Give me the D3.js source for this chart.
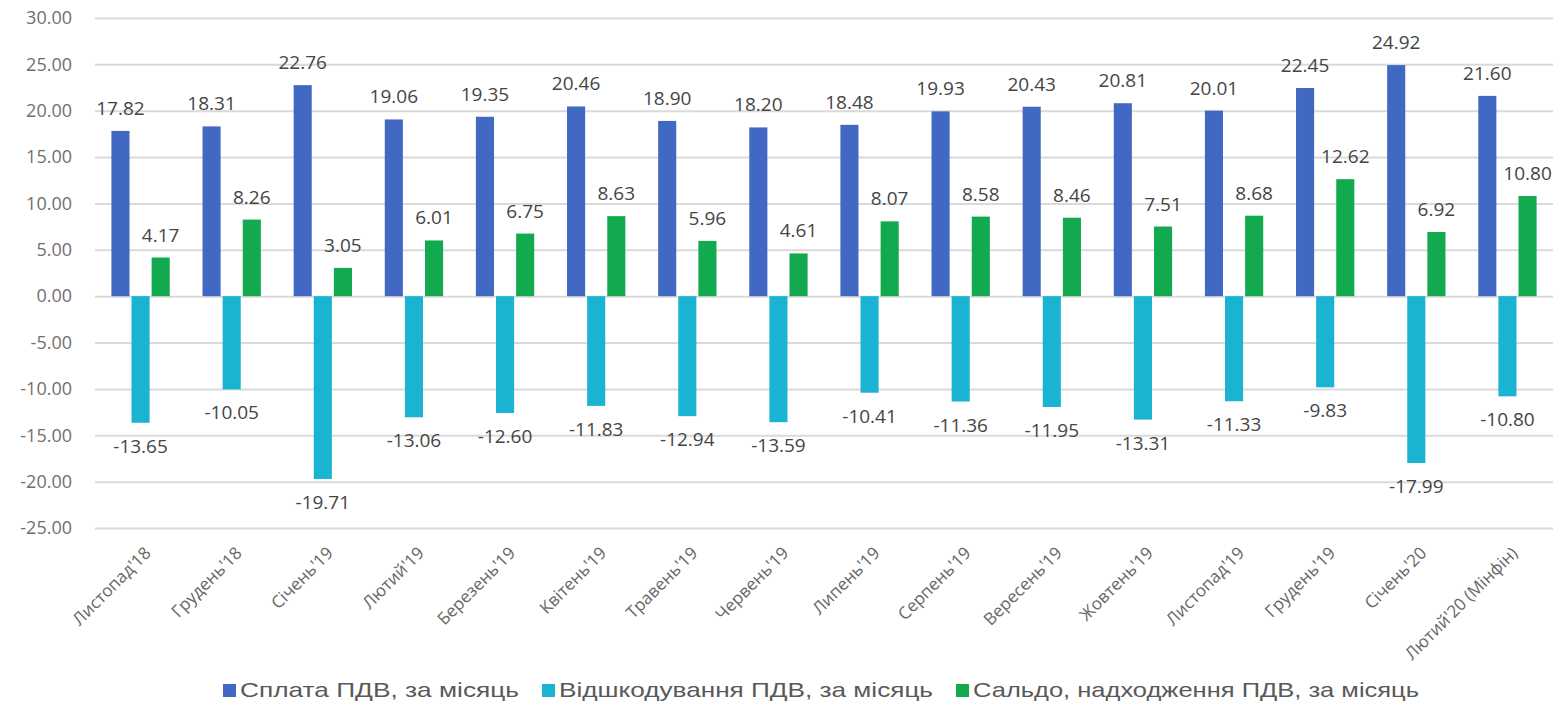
<!DOCTYPE html>
<html>
<head>
<meta charset="utf-8">
<script src="https://cdn.jsdelivr.net/npm/d3@7"></script>
<style>
  body { margin: 0; background: #fff; }
  svg { display: block; }
</style>
</head>
<body>
<div id="chart"></div>
<script>
'use strict';

/*** Data */
const months = ["Листопад'18", "Грудень'18", "Січень'19", "Лютий'19", "Березень'19", "Квітень'19",
                "Травень'19", "Червень'19", "Липень'19", "Серпень'19", "Вересень'19", "Жовтень'19",
                "Листопад'19", "Грудень'19", "Січень'20", "Лютий'20 (Мінфін)"];
const payments = [17.82, 18.31, 22.76, 19.06, 19.35, 20.46, 18.90, 18.20, 18.48, 19.93, 20.43, 20.81, 20.01, 22.45, 24.92, 21.60];
const refunds = [-13.65, -10.05, -19.71, -13.06, -12.60, -11.83, -12.94, -13.59, -10.41, -11.36, -11.95, -13.31, -11.33, -9.83, -17.99, -10.80];
const balance = [4.17, 8.26, 3.05, 6.01, 6.75, 8.63, 5.96, 4.61, 8.07, 8.58, 8.46, 7.51, 8.68, 12.62, 6.92, 10.80];
const seriesNames = ["Сплата ПДВ, за місяць", "Відшкодування ПДВ, за місяць", "Сальдо, надходження ПДВ, за місяць"];
const yTicks = [-25, -20, -15, -10, -5, 0, 5, 10, 15, 20, 25, 30];

/** Dimensions */
const w = 1568;
const h = 713;
const plotLeft = 95, plotRight = 1553, plotTop = 18, plotBottom = 528;

const colors = ["#4169c4", "#1ab3d1", "#13a94e"];
const legendWidths = [279, 374, 446]; // stretched like the picture

const svg = d3.select("#chart")
    .append("svg")
    .attr("width", w)
    .attr("height", h);

/** Scales */
const x0 = d3.scaleBand()
    .domain(months)
    .range([plotLeft, plotRight])
    .paddingInner(0.36)
    .paddingOuter(0.18);

const x1 = d3.scaleBand()
    .domain([0, 1, 2])
    .range([0, x0.bandwidth()])
    .paddingInner(0.1);

const y = d3.scaleLinear()
    .domain([-25, 30])
    .range([plotBottom, plotTop]);

/** Gridlines + y labels */
const yAxis = d3.axisLeft(y)
    .tickValues(yTicks)
    .tickSize(-(plotRight - plotLeft))
    .tickPadding(23)
    .tickFormat(d => d.toFixed(2)); // hyphen minus like the source

const gy = svg.append("g")
    .attr("transform", "translate(" + plotLeft + ",0)")
    .call(yAxis);
gy.select(".domain").remove();
gy.selectAll(".tick line").attr("stroke", "#dadada").attr("stroke-width", 2);
gy.selectAll(".tick text")
    .attr("fill", "#707070")
    .style("font-family", "'Open Sans', sans-serif")
    .style("font-size", "18px");

/** Bars */
const rows = months.map((m, i) => ({ month: m, values: [payments[i], refunds[i], balance[i]] }));

const groups = svg.selectAll("g.group")
    .data(rows)
    .enter()
    .append("g")
    .attr("class", "group")
    .attr("transform", d => "translate(" + x0(d.month) + ",0)");

groups.selectAll("rect")
    .data(d => d.values.map((v, k) => ({ k: k, v: v })))
    .enter()
    .append("rect")
    .attr("x", d => x1(d.k))
    .attr("y", d => y(Math.max(0, d.v)))
    .attr("width", x1.bandwidth())
    .attr("height", d => Math.abs(y(d.v) - y(0)))
    .attr("fill", d => colors[d.k]);

/** Data labels */
groups.selectAll("text.val")
    .data(d => d.values.map((v, k) => ({ k: k, v: v })))
    .enter()
    .append("text")
    .attr("class", "val")
    .attr("x", d => x1(d.k) + x1.bandwidth() / 2)
    .attr("y", d => d.v >= 0 ? y(d.v) - 16 : y(d.v) + 30)
    .attr("text-anchor", "middle")
    .attr("fill", "#454545")
    .style("font-family", "'Open Sans', sans-serif")
    .style("font-size", "19px")
    .text(d => d.v.toFixed(2));

/** X axis labels */
const xAxis = d3.axisBottom(x0)
    .tickSize(0)
    .tickPadding(0);

const gx = svg.append("g")
    .attr("transform", "translate(0,550)")
    .call(xAxis);
gx.select(".domain").remove();
gx.selectAll(".tick text")
    .attr("x", 0)
    .attr("y", 0)
    .attr("dy", "0.35em")
    .attr("text-anchor", "end")
    .attr("transform", "translate(7,0) rotate(-45)")
    .attr("fill", "#666")
    .style("font-family", "'Open Sans', sans-serif")
    .style("font-size", "17px");

/** Legend */
const legend = svg.append("g");
let lx = 223;
seriesNames.forEach((name, k) => {
    legend.append("rect")
        .attr("x", lx)
        .attr("y", 684)
        .attr("width", 13)
        .attr("height", 13)
        .attr("fill", colors[k]);
    legend.append("text")
        .attr("x", lx + 17)
        .attr("y", 697)
        .attr("fill", "#595959")
        .attr("textLength", legendWidths[k])
        .attr("lengthAdjust", "spacingAndGlyphs")
        .style("font-family", "'Liberation Sans', Arial, sans-serif")
        .style("font-size", "21px")
        .text(name);
    lx += 17 + legendWidths[k] + 23;
});
</script>
</body>
</html>
